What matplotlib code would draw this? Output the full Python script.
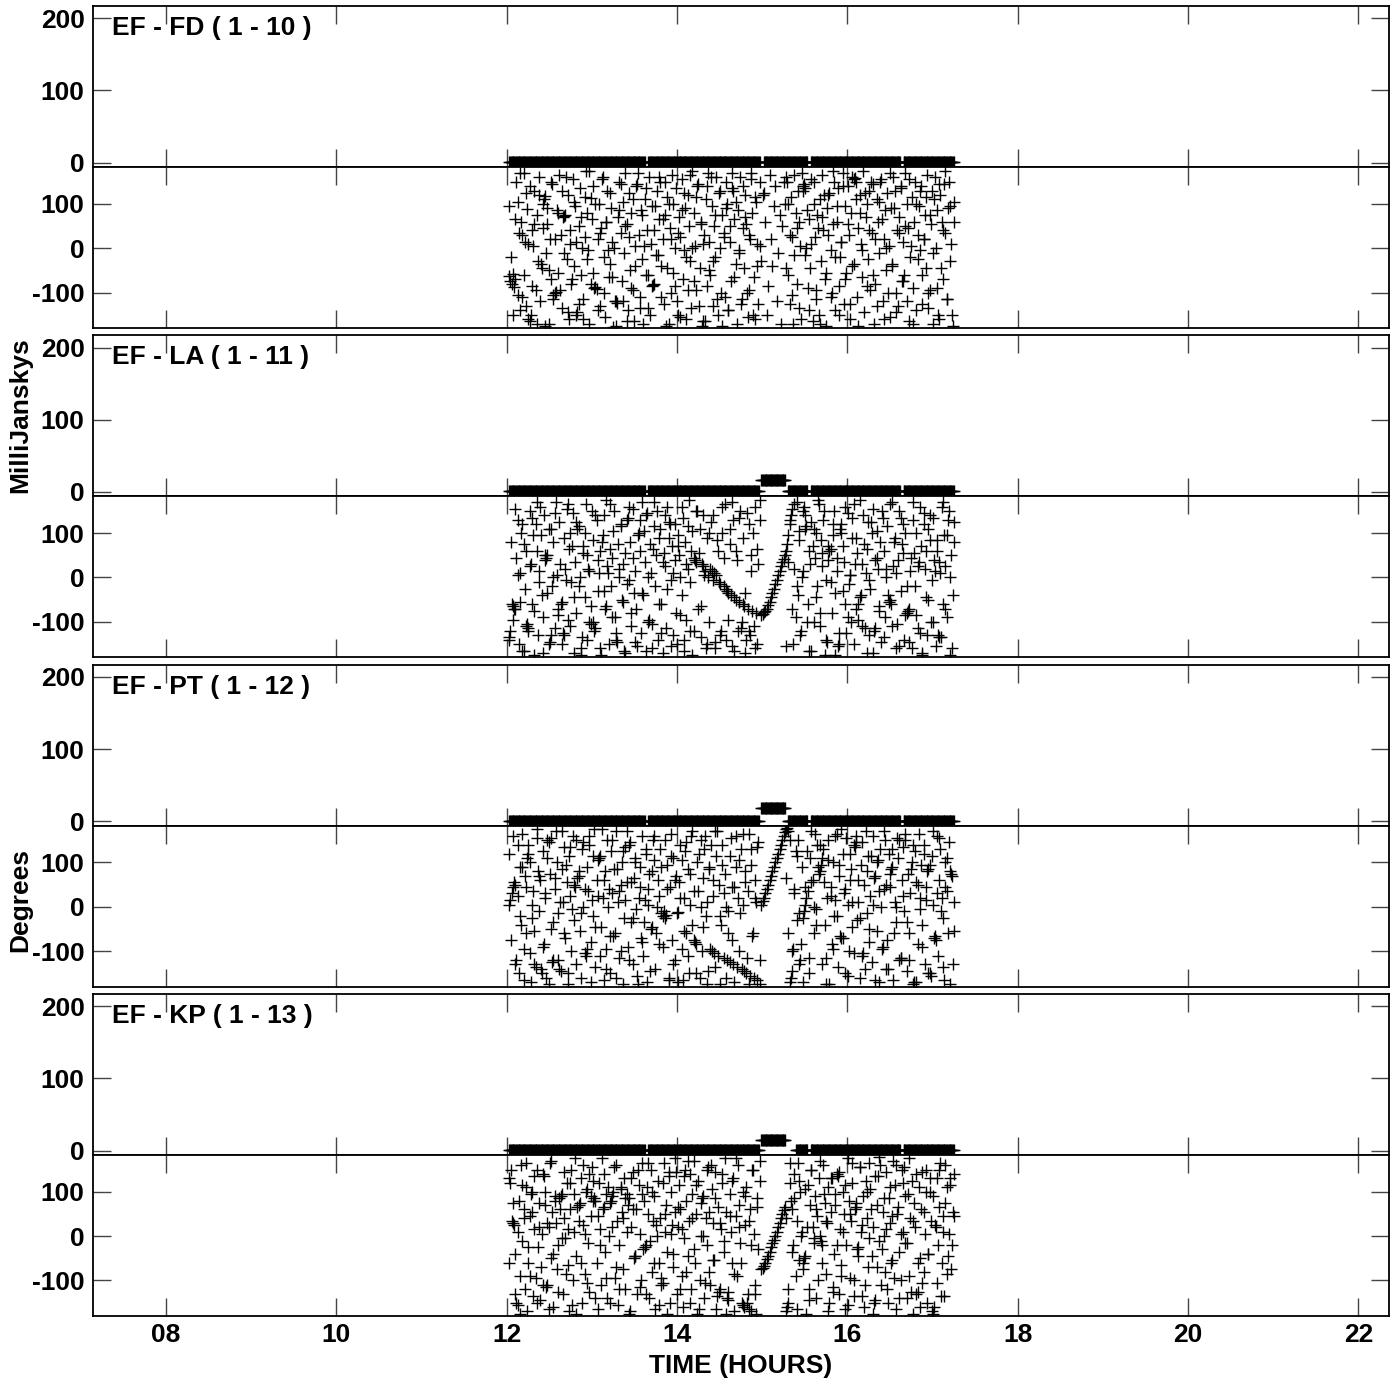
import numpy as np
import matplotlib
matplotlib.use("Agg")
import matplotlib.pyplot as plt

plt.rcParams['font.family'] = ['Liberation Sans', 'DejaVu Sans']
plt.rcParams['font.weight'] = 'bold'
plt.rcParams['axes.unicode_minus'] = False

# ---------------- data ----------------
BASELINES = ["EF - FD ( 1 - 10 )", "EF - LA ( 1 - 11 )", "EF - PT ( 1 - 12 )", "EF - KP ( 1 - 13 )"]
X_TICKS = [8, 10, 12, 14, 16, 18, 20, 22]
X_TICK_LABELS = ["08", "10", "12", "14", "16", "18", "20", "22"]
AMP_TICKS = [0, 100, 200]
PHASE_TICKS = [-100, 0, 100]

# time windows (hours) of the phase groups
WIN_A = (12.03, 14.97)
WIN_GAP = (14.99, 15.27)
WIN_B = (15.28, 17.25)

# amplitude scans: start, end (hours), amplitude (mJy)
FD_SCAN_T0 = [12.03, 13.66, 15.02, 15.57, 16.66]
FD_SCAN_T1 = [13.62, 14.97, 15.53, 16.62, 17.25]
FD_SCAN_AMP = [1, 1, 1, 1, 1]
LA_SCAN_T0 = [12.03, 13.66, 14.99, 15.30, 15.57, 16.66]
LA_SCAN_T1 = [13.62, 14.96, 15.27, 15.53, 16.62, 17.25]
LA_SCAN_AMP = [1, 1, 16, 1, 1, 1]
PT_SCAN_T0 = [12.03, 13.66, 14.99, 15.30, 15.57, 16.66]
PT_SCAN_T1 = [13.62, 14.96, 15.27, 15.53, 16.62, 17.25]
PT_SCAN_AMP = [1, 1, 19, 1, 1, 1]
KP_SCAN_T0 = [12.03, 13.66, 14.99, 15.40, 15.57, 16.66]
KP_SCAN_T1 = [13.62, 14.96, 15.27, 15.53, 16.62, 17.25]
KP_SCAN_AMP = [1, 1, 14, 1, 1, 1]

# phases (degrees)
FD_PH_A = [
    -62, -75, -80, -58, -88, -70, 150, 105, 35, -140, 60, -110, 170, 15,
    125, 88, -160, -165, -150, 40, 5, 130, -95, 75, -30, 160, -120, -45,
    100, 110, 118, -10, 55, -170, 20, -70, 145, -105, -100, -98, 85, -55,
    165, 30, -135, 70, 72, 75, -25, 120, -160, 10, -80, 155, -40, 95,
    -150, -145, 50, 135, -60, 0, -115, 25, 175, 80, -5, -172, 112, 65,
    140, -90, -88, -93, 20, 100, -130, 45, 160, -20, -155, 60, 128, -65,
    -35, 90, 15, -178, -120, -118, -124, 70, 150, 35, -75, 105, -10, 170,
    55, -140, 125, -50, 80, -95, -165, 5, 140, 145, 30, -110, 85, -25,
    -170, 110, -60, 40, -135, 160, 10, -85, -82, -80, 95, 130, -15, 65,
    150, -40, 20, -125, 75, -175, 115, 100, 45, -100, 165, -55, 0, 135,
    -120, -150, 70, 25, 155, -70, -5, 90, -160, 120, 50, -30, -135, 175,
    80, 5, -95, 140, 145, -45, 60, -175, -165, 30, 110, -85, 170, 15,
    -60, 95, -130, 50, -20, 160, -150, 125, 0, -100, 75, 35, -110, 150,
    100, -140, 15, -75, 135, 130, 65, -35, -170, 85, -5, 160, -115, 45,
    -45, 120, 55, -155, -95, 20, 170, 80, -65, -160, 105, 10, -125, 150,
]
FD_PH_A2 = [
    95, -20, -150, 65, -105, 170, 30, -60,
    -130, 10, 140, -85, 55, -170, 120, -35,
    45, -175, 90, -50, 150, -115, 20, 80,
    -95, 130, -10, 160, -145, 40, -70, 105,
    15, -125, 70, -160, 115, -25, 175, -80,
    -55, 100, -140, 35, 155, -100, 60, -5,
    125, -65, 0, -175, 85, 145, -120, 50,
    -165, 25, -90, 110, -40, 170, -135, 75,
    5, 135, -60, -150, 95, 40, -15, 160,
    -110, 65, 150, -45, -170, 20, 100, -85,
    35, -155, 85, 125, -20, -95, 165, 0,
    -75, 115, -130, 55, 10, -165, 140, -50,
    160, -30, 75, -115, 130, -175, 25, 90,
    -140, 50, 170, -65, 105, -10, -125, 140,
    70, -100, 30, 155, -150, 115, -40, 5,
]
FD_PH_GAP = [-30, 120, 125, 60, -150, -85, 165, 20, -40, 95, 140, -120, -10, 75, -170, 50, 150, 100]
FD_PH_B = [
    160, 150, -60, 30, 115, -105, -170, -15, 80, 45, 130, -135, 5, 170,
    140, 145, 135, 0, -90, 65, -45, 155, -165, 100, 25, -115, 75, -150,
    110, -30, 165, 40, -70, -175, 90, 120, 125, -5, -100, 55, 150, -140,
    60, 135, -85, -20, 15, 170, -125, 95, -55, 140, 30, -160, 80, -40,
    155, 158, 150, -110, 45, 120, 10, -65, 175, -145, 70, 100, -25, 130,
    -95, 35, 145, -170, -80, 110, 60, -10, 150, 155, -120, 20, 85, -50,
    125, 5, -155, 90, -35, 160, 130, -100, 40, -130, 70, 140, -75, 15,
    -60, 170, 100, 45, -165, -20, 115, -90, 60, 150, -140, 30, 95, -5,
    140, -125, 20, 75, -45, 165, -100, -95, 55, 130, -170, 110, 0, 85,
    -150, -160, 120, 60, -70, 145, 35, -115, 90, 150, -30, 10, -175, 105,
]
FD_PH_B2 = [
    -45, 100, -125, 25, 165, -80, 60, -160,
    130, -15, 85, -140, 10, 150, -95, 45,
    -170, 70, 120, -55, 30, -110, 175, -20,
    95, -150, 15, 140, -70, 55, -125, 160,
    -35, 110, -175, 80, -5, 125, -85, 40,
    150, -60, 20, -130, 105, 65, -160, 0,
    -100, 170, -40, 90, -145, 35, 135, -75,
    50, -120, 155, 5, -170, 100, -25, 130,
    -60, 20, 115, -135, 75, -10, 160, -90,
    145, -45, 40, 175, -115, 95, -150, 60,
]

LA_PH_A = [
    -135, -120, -60, -65, -72, -70, 45, 130, -150, 10, 100, -165, 75, -25,
    -110, -105, -115, 150, 30, -60, 95, -175, 120, 60, -130, 15, 160, -40,
    -90, 140, 40, 45, 50, -150, -145, 110, -20, 80, -115, 170, 5, -70,
    125, -60, -55, -125, -130, 20, 155, -95, 65, 100, -10, 145, -170, 35,
    -80, 110, 115, 0, -160, -135, 70, -45, 165, 50, 20, -100, -105, 150,
    85, -120, -115, 130, -30, 10, 60, -175, 95, 140, -70, -65, 25, -150,
    165, -20, 45, 105, -90, -140, -145, 75, 0, 120, -50, 30, -165, 55,
    130, 135, -5, 80, -110, 155, -35, 15, -70, -155, 100, 60, -125, 170,
    -40, 35, 140, 145, -100, -95, 10, -160, 65, 115, -20, 150, -140, 90,
    110, -60, -170, 55, 25, -115, 160, 125, 120, -5, 70, -130, 40, -80,
    -150, 95, 50, 0, -40, 135, -165, 80, -95, 20, 175, -120, 60, 105,
    45, 40, 35, 150, -70, 110, -135, 30, 25, 5, -160, 90, 0, -100,
    20, 15, 140, 10, -145, 5, 60, -10, -15, -120, 100, -20, 165, -25,
    -30, -35, 75, -40, -155, 130, -45, -50, 40, -120, -55, 150, -100, -60,
    -65, -170, -140, -70, 120, -130, 50, -75, -110, 160, -80, -150, 30, 175,
]
LA_PH_A2 = [
    -140, 80, -95, 155, 5, -55, 120, -165,
    60, -120, 25, 135, -75, 170, -10, 95,
    -170, 50, -35, 110, -130, 0, 145, -85,
    30, -150, 90, -5, 165, -110, 70, -45,
    125, -20, -175, 55, 100, -140, 15, -65,
    -100, 140, 40, -160, 80, -30, 175, 10,
    65, -90, 150, -125, 20, 115, -55, -170,
    -15, 160, -80, 45, -145, 95, 130, -35,
    105, -165, 0, 75, -105, 170, 50, -60,
    -125, 35, 140, -25, 90, -155, 10, 120,
    70, -85, 160, -140, 30, 115, -10, -175,
    -120, 150, 55, -65, 140, 15, -150, 100,
    125, -5, -160, 85, -130, 160, 45, -140,
    -95, 110, 170, -165, 60, 135, -115, 90,
    -35, 145, -120, 15, 100, -160, 65, 130,
]
LA_PH_GAP = [-85, -82, -78, -75, -70, -62, -55, -45, -35, -25, -15, -5, 5, 15, 25, 35, 42, 50]
LA_PH_B = [
    60, 75, 95, 120, 140, 155, -150, 20, -90, 170, -40, 105, -130, 0,
    150, 160, 110, 115, -60, -165, 30, 125, 70, -100, 45, 100, -20, 165,
    -110, 85, 55, 130, -175, -5, -145, 40, 60, 65, -80, 95, 150, -35,
    15, -155, -150, 110, 120, 70, 35, -60, -125, 145, -15, 5, -100, 90,
    165, 30, -70, 55, -95, -45, -40, -110, 140, 75, 10, -170, 125, -130,
    -25, 100, 155, -120, -115, 45, 20, -65, 80, -145, 135, 60, -90, 0,
    115, -55, -50, -60, 170, 25, 90, -160, -105, 40, 150, -30, 75, 120,
    -140, -85, -80, -75, -70, 15, -160, 130, 55, -20, 100, -115, 35, 160,
    70, -170, 145, 20, -45, -130, 110, 85, -100, -5, 135, 40, -155, 60,
    -130, -135, 10, 160, -60, 95, 25, -90, 130, 150, -175, 50, -40, 80,
]
LA_PH_B2 = [
    -155, 35, 130, -70, 165, -20, 85, -120,
    15, 140, -100, 60, -165, 110, -45, 175,
    -80, 25, 150, -140, 70, -10, 120, -175,
    45, -125, 100, -30, 160, -90, 5, 135,
    -150, 90, -60, 175, 30, -115, 65, -5,
    125, -170, 40, 105, -75, 150, -135, 20,
    -40, 165, -110, 80, 10, -155, 135, 55,
    100, -20, -145, 45, 170, -85, 25, -125,
    -175, 120, 60, -50, 140, -100, 15, 85,
    35, -135, 170, -70, 95, 0, -160, 125,
]

PT_PH_A = [
    5, 15, 30, 45, 55, 50, -120, 140, -150, 90, -40, 165, -95, 70,
    -60, 110, 120, 100, -170, -25, 35, -130, -135, 155, 80, -10, 60, -150,
    125, -85, 20, -160, 150, 145, 75, -50, -125, -120, 40, 170, 100, -15,
    -140, -145, 85, 10, 135, -70, 55, -175, 115, 25, -100, 160, -30, 45,
    150, 65, 70, -55, -160, 130, 0, -105, -110, 90, 35, 140, -80, 15,
    -20, 175, -135, 60, 105, 110, 115, -45, 20, -165, 80, -95, 150, 40,
    -150, 125, 30, -65, -60, 170, 85, 10, -115, 50, 100, -175, -25, 135,
    55, -90, 140, 145, -35, -130, 65, 110, -5, -155, 20, 90, -70, 160,
    -110, 15, 120, -170, 40, 75, -50, -45, 150, 105, -140, 0, 60, -85,
    130, -15, -20, -10, -25, -18, 95, -160, 45, 165, -75, 110, -120, 70,
    -15, -12, 55, 140, -95, -165, 20, 125, -60, 85, -150, 5, 160, -40,
    -75, -80, -85, 100, 35, -160, 150, -100, 65, 130, -20, 10, -145, 90,
    -95, -100, 25, -105, 170, 115, -110, 50, -175, -40, 140, -115, 75, 0,
    -120, -60, -125, 155, 45, -130, -170, 90, -135, 20, 105, -15, -140, 165,
    -145, 80, -150, 35, -175, -155, 130, -65, -160, 60, 10, -165, 145, -120,
]
PT_PH_A2 = [
    120, -75, 160, -130, 25, -20, 90, -165,
    45, 140, -105, 5, -55, 175, 70, -140,
    -90, 30, 110, -175, 155, -35, 65, -120,
    10, 170, -60, 95, -150, 135, -5, 50,
    -130, 80, -15, 145, 40, -95, 160, -170,
    115, -45, 25, -110, 175, 60, -140, 0,
    -65, 150, 85, -160, 35, -100, 125, 15,
    170, -120, 55, -25, 100, -175, 45, -80,
    -35, 130, 5, -145, 80, 160, -60, 25,
    90, -90, 150, 40, -165, 115, -130, 60,
    -170, 20, 105, -55, 145, -110, 75, 170,
    35, -150, 120, 0, -45, 160, -175, 85,
    140, 60, -135, 170, -20, 95, 30, -160,
    -10, 115, -75, 45, 160, -100, 130, 5,
    55, -115, 165, 95, -60, 20, 135, -175,
]
PT_PH_GAP = [5, 12, 20, 30, 40, 50, 60, 70, 80, 90, 100, 110, 120, 130, 140, 150, 160, 168]
PT_PH_B = [
    175, 178, 170, -170, -160, -100, -95, 40, 125, -30, 150, -130, -120, 90,
    -25, -10, 5, 20, 35, -150, 110, 55, 60, -60, 165, -5, 140, 75,
    80, 95, 110, 130, -40, -115, 20, 150, -175, 45, -85, 100, -20, 15,
    165, -135, 70, -65, -70, 120, 30, -150, 155, 5, -100, 60, 85, -45,
    140, 135, 145, -30, 10, -160, 95, -110, -105, 50, 170, -15, 115, -80,
    25, -125, 160, 65, 70, -55, 105, -170, 130, 0, -90, 40, 150, -140,
    -75, 120, 45, 85, 90, -165, 10, -35, 155, 110, -120, -115, 60, 135,
    -10, 150, -145, 75, -60, 30, 100, -175, -170, 125, 55, -85, 165, 20,
    95, -40, 140, -130, 45, 80, 85, -150, -155, 115, 5, -70, -75, 160,
    -110, 60, 130, 20, -25, -165, 100, 35, -60, 145, 80, 75, -130, 10,
]
PT_PH_B2 = [
    65, -60, 150, -145, 30, 115, -15, -85,
    -170, 45, 125, -115, 170, 0, -40, 90,
    140, -130, 55, -175, 105, 25, -95, 160,
    -20, 95, 175, -70, 40, -155, 120, 10,
    -105, 160, 60, -25, 145, -140, 80, -50,
    115, 5, -165, 100, 35, -95, 170, 50,
    -140, 75, 130, -60, 0, 150, -115, 25,
    165, -35, -120, 85, 140, -170, 50, -5,
    -90, 120, 15, -150, 95, 170, -65, 30,
    155, -10, -135, 45, 110, -175, 70, -55,
]

KP_PH_A = [
    130, 120, 35, 30, 25, -40, -150, -155, 80, -90, 160, -10, 60, -120,
    110, -170, -60, 45, 95, 100, -135, 15, -95, 150, -25, 75, -145, 5,
    140, 135, 70, -115, -110, 20, 165, -50, 55, -160, 90, 30, -75, -20,
    85, 90, 95, -130, 40, -5, 120, -65, -170, 60, 150, -100, 10, 175,
    -45, 65, 70, 75, 130, -150, 25, -85, 100, 105, -15, -125, 45, 155,
    80, 85, 78, -60, -165, 120, 15, -110, 60, 140, -35, 95, -140, 0,
    75, 80, 90, 100, -95, 160, 35, -155, -20, 110, 55, -75, 130, -120,
    95, 70, 85, -170, 20, 145, -50, -45, 60, -130, 115, 5, -100, 165,
    -30, -25, -20, 110, 50, -140, 150, -80, 35, 90, -165, 0, 125, -60,
    40, -110, -105, 165, 10, 70, -35, 135, -150, 100, 25, -70, 55, 145,
    -130, 20, 115, 60, -90, -160, -5, 150, 80, -45, 35, 140, -120, 95,
    170, -60, 50, -175, 125, -100, 0, 85, 90, -140, 40, -20, 155, -80,
    -110, 105, 30, -55, 145, -165, 65, -125, -120, 15, 120, -35, 175, 55,
    -140, -145, 95, 10, -60, 130, -170, 45, -90, 160, 70, -15, -150, -155,
    -160, 25, 110, -130, -165, 60, -170, 150, 5, -110, -175, 85, -30, 125,
]
KP_PH_A2 = [
    -60, 150, 75, -130, 10, -175, 115, 40,
    165, -25, -90, 55, 135, -150, 20, -70,
    -110, 100, 30, -165, 170, -40, 80, -125,
    60, -5, 145, -85, 15, 120, -155, 95,
    -175, 35, -60, 160, 5, -105, 140, 90,
    125, -140, 45, -20, 175, 65, -95, 110,
    -150, 20, 155, -70, -120, 105, 40, 85,
    10, -175, 130, 60, -45, 150, -115, 95,
    80, -130, 165, -10, 100, -60, 25, -155,
    -95, 120, 50, -175, 145, 5, -40, 175,
    65, -120, 15, 135, -80, 170, -150, 40,
    -30, 115, -165, 75, 0, -105, 150, 55,
    160, -55, 85, -135, 30, 140, -10, -175,
    -125, 45, 125, -85, 175, 20, -60, 100,
    90, -150, 35, -20, 150, -130, 65, 170,
]
KP_PH_GAP = [-75, -72, -68, -60, -52, -45, -35, -25, -15, -8, 0, 10, 20, 30, 40, 50, 58, 65]
KP_PH_B = [
    -170, -160, -150, 120, 80, 60, -20, 140, -90, 35, 165, -55, 100, 10,
    -60, -50, -45, -175, 115, -120, 70, 150, 20, -5, 90, -140, 45, 130,
    0, -10, -20, 160, 75, -85, 30, 110, -150, 55, 130, -115, -40, 95,
    140, 135, -130, 15, -65, 100, 50, -165, -20, 175, 80, -95, 35, 120,
    -100, 60, 65, -30, -25, 155, 10, -135, 90, -160, 125, 40, -70, 165,
    105, -45, 20, -150, -145, 70, 135, -10, 160, -110, 55, 0, -80, 145,
    -120, 85, 30, -60, -55, 170, 115, -165, 50, 65, -35, -100, 150, 10,
    155, -15, -140, 95, -90, 40, 125, -175, 75, 20, -130, -125, 110, -50,
    60, 145, -80, 5, 100, -150, -40, 130, 35, -170, 90, -160, 20, -105,
    -20, 150, 165, -60, 45, -135, 75, 110, -45, 5, 130, -75, 55, 140,
]
KP_PH_B2 = [
    40, -120, 165, -35, 85, -165, 125, 0,
    -75, 105, 20, -145, 150, -15, 60, -100,
    170, -60, 95, 35, -170, 130, -125, 70,
    -20, 145, -90, 10, 115, -155, 50, 165,
    -135, 75, -45, 155, 25, -110, 100, -5,
    60, -175, 135, -70, 178, -30, 85, 15,
    -150, 110, 45, -95, 160, -140, 5, 120,
    90, -15, 175, -125, 35, 140, -60, -160,
    -105, 55, 150, -40, 100, -175, 25, 130,
    65, -135, 10, 160, -85, 115, -20, 45,
]

PANELS = [
    (FD_SCAN_T0, FD_SCAN_T1, FD_SCAN_AMP, FD_PH_A, FD_PH_A2, FD_PH_GAP, FD_PH_B, FD_PH_B2),
    (LA_SCAN_T0, LA_SCAN_T1, LA_SCAN_AMP, LA_PH_A, LA_PH_A2, LA_PH_GAP, LA_PH_B, LA_PH_B2),
    (PT_SCAN_T0, PT_SCAN_T1, PT_SCAN_AMP, PT_PH_A, PT_PH_A2, PT_PH_GAP, PT_PH_B, PT_PH_B2),
    (KP_SCAN_T0, KP_SCAN_T1, KP_SCAN_AMP, KP_PH_A, KP_PH_A2, KP_PH_GAP, KP_PH_B, KP_PH_B2),
]
AMP_SAMPLE_STEP = 0.01  # hours between amplitude samples within a scan

# ---------------- layout ----------------
W, H = 1399, 1380
fig = plt.figure(figsize=(W / 100, H / 100), dpi=100)
L, R = 93, 1389
X_LIM = (7.144, 22.36)
AMP_LIM = (-6, 217)
PH_LIM = (-180, 183)
FS = 19
MK = dict(marker='+', linestyle='none', color='black', markersize=8, markeredgewidth=1.0)


def style(ax, yticks):
    ax.set_xlim(*X_LIM)
    ax.set_xticks(X_TICKS)
    ax.set_yticks(yticks)
    ax.tick_params(axis='both', which='major', direction='in', length=13, width=1.0,
                   color='#444444', top=True, right=True, labelsize=FS, pad=6)
    for s in ax.spines.values():
        s.set_linewidth(1.3)
        s.set_zorder(5)
    for lab in ax.get_yticklabels():
        lab.set_fontweight('bold')


for i, (t0s, t1s, amps, pa, pa2, pg, pb, pb2) in enumerate(PANELS):
    top = 6 + 329.3 * i
    ax_a = fig.add_axes([L / W, 1 - (top + 161) / H, (R - L) / W, 161 / H])
    ax_p = fig.add_axes([L / W, 1 - (top + 322) / H, (R - L) / W, 161 / H])

    # amplitude
    for t0, t1, a in zip(t0s, t1s, amps):
        tt = np.arange(t0, t1 + 1e-9, AMP_SAMPLE_STEP)
        ax_a.plot(tt, np.full(tt.size, a, dtype=float), **MK)
    ax_a.set_ylim(*AMP_LIM)
    style(ax_a, AMP_TICKS)
    ax_a.set_xticklabels([])
    ax_a.text(19 / (R - L), 1 - 10 / 161, BASELINES[i], transform=ax_a.transAxes,
              ha='left', va='top', fontsize=FS, fontweight='bold')

    # phase
    for (w0, w1), vals in ((WIN_A, pa), (WIN_A, pa2), (WIN_GAP, pg), (WIN_B, pb), (WIN_B, pb2)):
        tt = np.linspace(w0, w1, len(vals))
        ax_p.plot(tt, vals, **MK)
    ax_p.set_ylim(*PH_LIM)
    style(ax_p, PHASE_TICKS)
    if i == 3:
        ax_p.set_xticklabels(X_TICK_LABELS, fontweight='bold')
        ax_p.tick_params(axis='x', pad=5)
    else:
        ax_p.set_xticklabels([])

fig.text((L + R) / 2 / W, 1 - 1366 / H, "TIME (HOURS)", ha='center', va='center',
         fontsize=FS, fontweight='bold')
fig.text(20 / W, 1 - 415 / H, "MilliJanskys", rotation=90, ha='center', va='center',
         fontsize=FS, fontweight='bold')
fig.text(20 / W, 1 - 900 / H, "Degrees", rotation=90, ha='center', va='center',
         fontsize=FS, fontweight='bold')

fig.savefig("out.png", dpi=100)
